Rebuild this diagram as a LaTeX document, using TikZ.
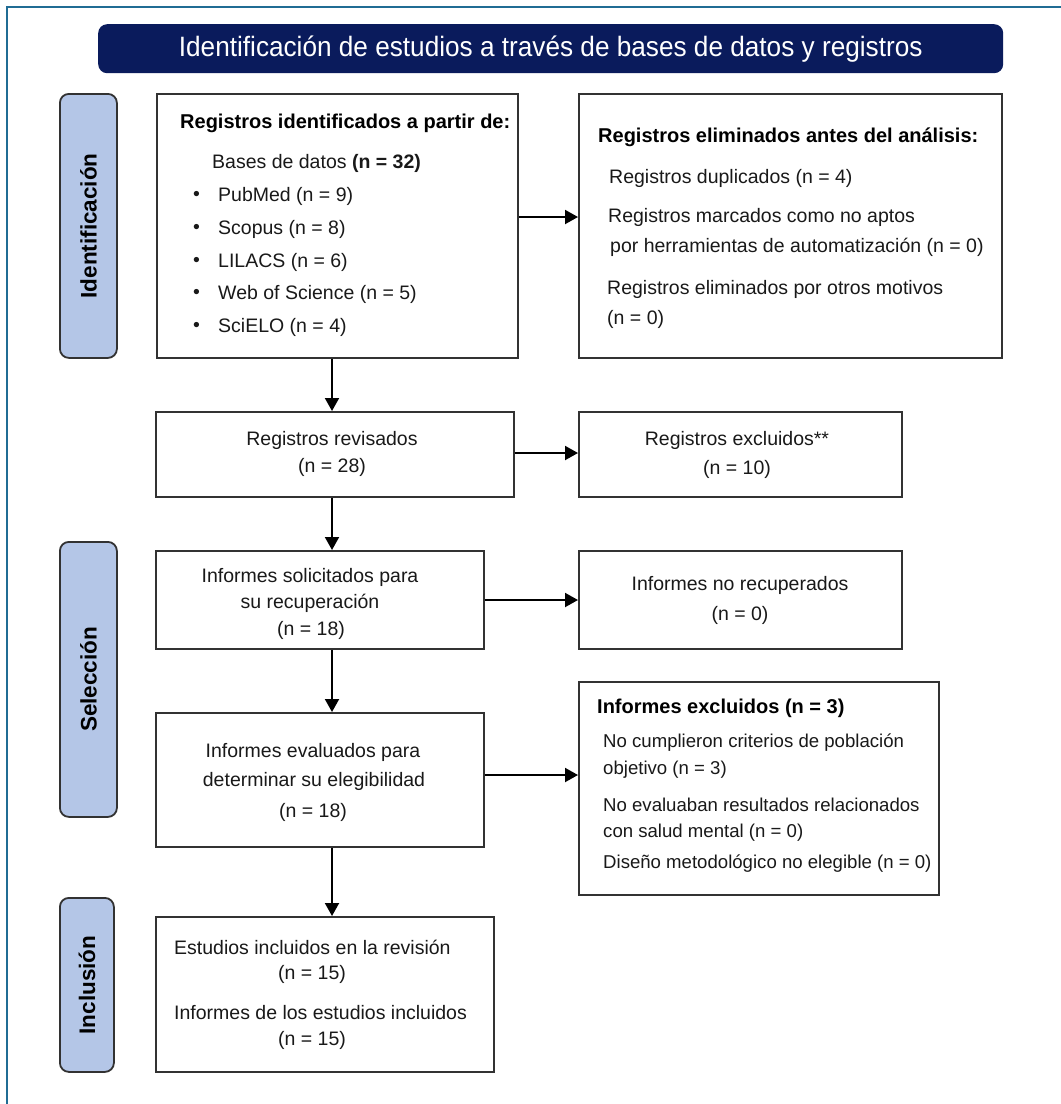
\documentclass[tikz,border=0pt]{standalone}
\usepackage{fontspec}
\setmainfont{Liberation Sans}
\newfontfamily\headfont[FakeStretch=0.935]{Liberation Sans}
\usetikzlibrary{arrows.meta}
\definecolor{navy}{RGB}{10,27,92}
\definecolor{labelblue}{RGB}{180,198,231}
\definecolor{frameteal}{RGB}{32,108,148}
\definecolor{boxline}{RGB}{50,50,50}
\definecolor{txt}{RGB}{25,25,25}
\begin{document}
\begin{tikzpicture}[x=1pt,y=-1pt,
  box/.style={draw=boxline, line width=1.8pt, fill=white, inner sep=0pt, anchor=north west},
  phase/.style={draw=boxline, line width=1.8pt, fill=labelblue, rounded corners=9pt, inner sep=0pt, anchor=north west},
  phasetext/.style={rotate=90, font=\fontsize{22.5}{27}\selectfont\bfseries, text=black, inner sep=0pt},
  tl/.style={anchor=west, inner sep=0pt, font=\fontsize{19.5}{23}\selectfont, text=txt},
  ts/.style={anchor=west, inner sep=0pt, font=\fontsize{18.6}{22}\selectfont, text=txt},
  tc/.style={anchor=center, inner sep=0pt, font=\fontsize{19.5}{23}\selectfont, text=txt},
  tb/.style={anchor=west, inner sep=0pt, font=\fontsize{20}{24}\selectfont\bfseries, text=black},
  arr/.style={draw=black, line width=2pt, -{Triangle[length=13pt,width=14pt]}},
]
\useasboundingbox (0,0) rectangle (1061,1104);
\fill[white] (0,0) rectangle (1061,1104);
% frame
\coordinate (fbl) at (7,1104);
\coordinate (ftl) at (7,7);
\coordinate (ftr) at (1061,7);
\draw[frameteal, line width=2pt] (fbl) -- (ftl) -- (ftr);
% header
\node[anchor=north west, fill=navy, rounded corners=9pt, minimum width=905pt, minimum height=49pt, inner sep=0pt] (head) at (98,24) {};
\node[text=white, inner sep=0pt, font=\headfont\fontsize{28}{32}\selectfont] (headtxt) at (head.center) {Identificación de estudios a través de bases de datos y registros};
% phase labels
\node[phase, minimum width=57pt, minimum height=264pt] (p1) at (59,93) {};
\node[phasetext] (p1t) at (p1.center) {Identificación};
\node[phase, minimum width=57pt, minimum height=275pt] (p2) at (59,541) {};
\node[phasetext] (p2t) at (p2.center) {Selección};
\node[phase, minimum width=54pt, minimum height=174pt] (p3) at (59,897) {};
\node[phasetext] (p3t) at (p3.center) {Inclusión};
% boxes
\node[box, minimum width=361pt, minimum height=264pt] (b1) at (156,93) {};
\node[box, minimum width=423pt, minimum height=264pt] (b2) at (578,93) {};
\node[box, minimum width=358pt, minimum height=85pt] (b3) at (155,411) {};
\node[box, minimum width=323pt, minimum height=85pt] (b4) at (578,411) {};
\node[box, minimum width=328pt, minimum height=98pt] (b5) at (155,550) {};
\node[box, minimum width=323pt, minimum height=98pt] (b6) at (578,550) {};
\node[box, minimum width=328pt, minimum height=134pt] (b7) at (155,712) {};
\node[box, minimum width=360pt, minimum height=213pt] (b8) at (578,681) {};
\node[box, minimum width=338pt, minimum height=155pt] (b9) at (155,916) {};
% box 1 text
\node[tb] (t1a) at (180,123) {Registros identificados a partir de:};
\node[tl] (t1b) at (212,163) {Bases de datos \textbf{(n = 32)}};
\node[tl] (t1c0) at (193,196) {•}; \node[tl] (t1c) at (218,196) {PubMed (n = 9)};
\node[tl] (t1d0) at (193,229) {•}; \node[tl] (t1d) at (218,229) {Scopus (n = 8)};
\node[tl] (t1e0) at (193,262) {•}; \node[tl] (t1e) at (218,262) {LILACS (n = 6)};
\node[tl] (t1f0) at (193,294) {•}; \node[tl] (t1f) at (218,294) {Web of Science (n = 5)};
\node[tl] (t1g0) at (193,327) {•}; \node[tl] (t1g) at (218,327) {SciELO (n = 4)};
% box 2 text
\node[tb] (t2a) at (598,137) {Registros eliminados antes del análisis:};
\node[tl] (t2b) at (609,178) {Registros duplicados (n = 4)};
\node[tl] (t2c) at (608,217) {Registros marcados como no aptos};
\node[tl] (t2d) at (610,247) {por herramientas de automatización (n = 0)};
\node[tl] (t2e) at (607,289) {Registros eliminados por otros motivos};
\node[tl] (t2f) at (607,319) {(n = 0)};
% box 3,4
\node[tc] (t3a) at (332,440) {Registros revisados};
\node[tc] (t3b) at (332,467) {(n = 28)};
\node[tc] (t4a) at (737,440) {Registros excluidos**};
\node[tc] (t4b) at (737,469) {(n = 10)};
% box 5,6
\node[tc] (t5a) at (310,577) {Informes solicitados para};
\node[tc] (t5b) at (310,603) {su recuperación};
\node[tc] (t5c) at (311,630) {(n = 18)};
\node[tc] (t6a) at (740,585) {Informes no recuperados};
\node[tc] (t6b) at (740,615) {(n = 0)};
% box 7
\node[tc] (t7a) at (313,752) {Informes evaluados para};
\node[tc] (t7b) at (314,781) {determinar su elegibilidad};
\node[tc] (t7c) at (313,812) {(n = 18)};
% box 8
\node[tb] (t8a) at (597,708) {Informes excluidos (n = 3)};
\node[ts] (t8b) at (603,743) {No cumplieron criterios de población};
\node[ts] (t8c) at (603,770) {objetivo (n = 3)};
\node[ts] (t8d) at (603,805) {No evaluaban resultados relacionados};
\node[ts] (t8e) at (603,833) {con salud mental (n = 0)};
\node[ts] (t8f) at (603,864) {Diseño metodológico no elegible (n = 0)};
% box 9
\node[tl] (t9a) at (174,947) {Estudios incluidos en la revisión};
\node[tc] (t9b) at (312,974) {(n = 15)};
\node[tl] (t9c) at (174,1013) {Informes de los estudios incluidos};
\node[tc] (t9d) at (312,1040) {(n = 15)};
% connectors
\coordinate (ax) at (332,0);
\coordinate (ay1) at (0,217);
\coordinate (ay2) at (0,453);
\coordinate (ay3) at (0,600);
\coordinate (ay4) at (0,775);
\draw[arr] (b1.south -| ax) -- (b3.north -| ax);
\draw[arr] (b3.south -| ax) -- (b5.north -| ax);
\draw[arr] (b5.south -| ax) -- (b7.north -| ax);
\draw[arr] (b7.south -| ax) -- (b9.north -| ax);
\draw[arr] (b1.east |- ay1) -- (b2.west |- ay1);
\draw[arr] (b3.east |- ay2) -- (b4.west |- ay2);
\draw[arr] (b5.east |- ay3) -- (b6.west |- ay3);
\draw[arr] (b7.east |- ay4) -- (b8.west |- ay4);
\end{tikzpicture}
\end{document}
